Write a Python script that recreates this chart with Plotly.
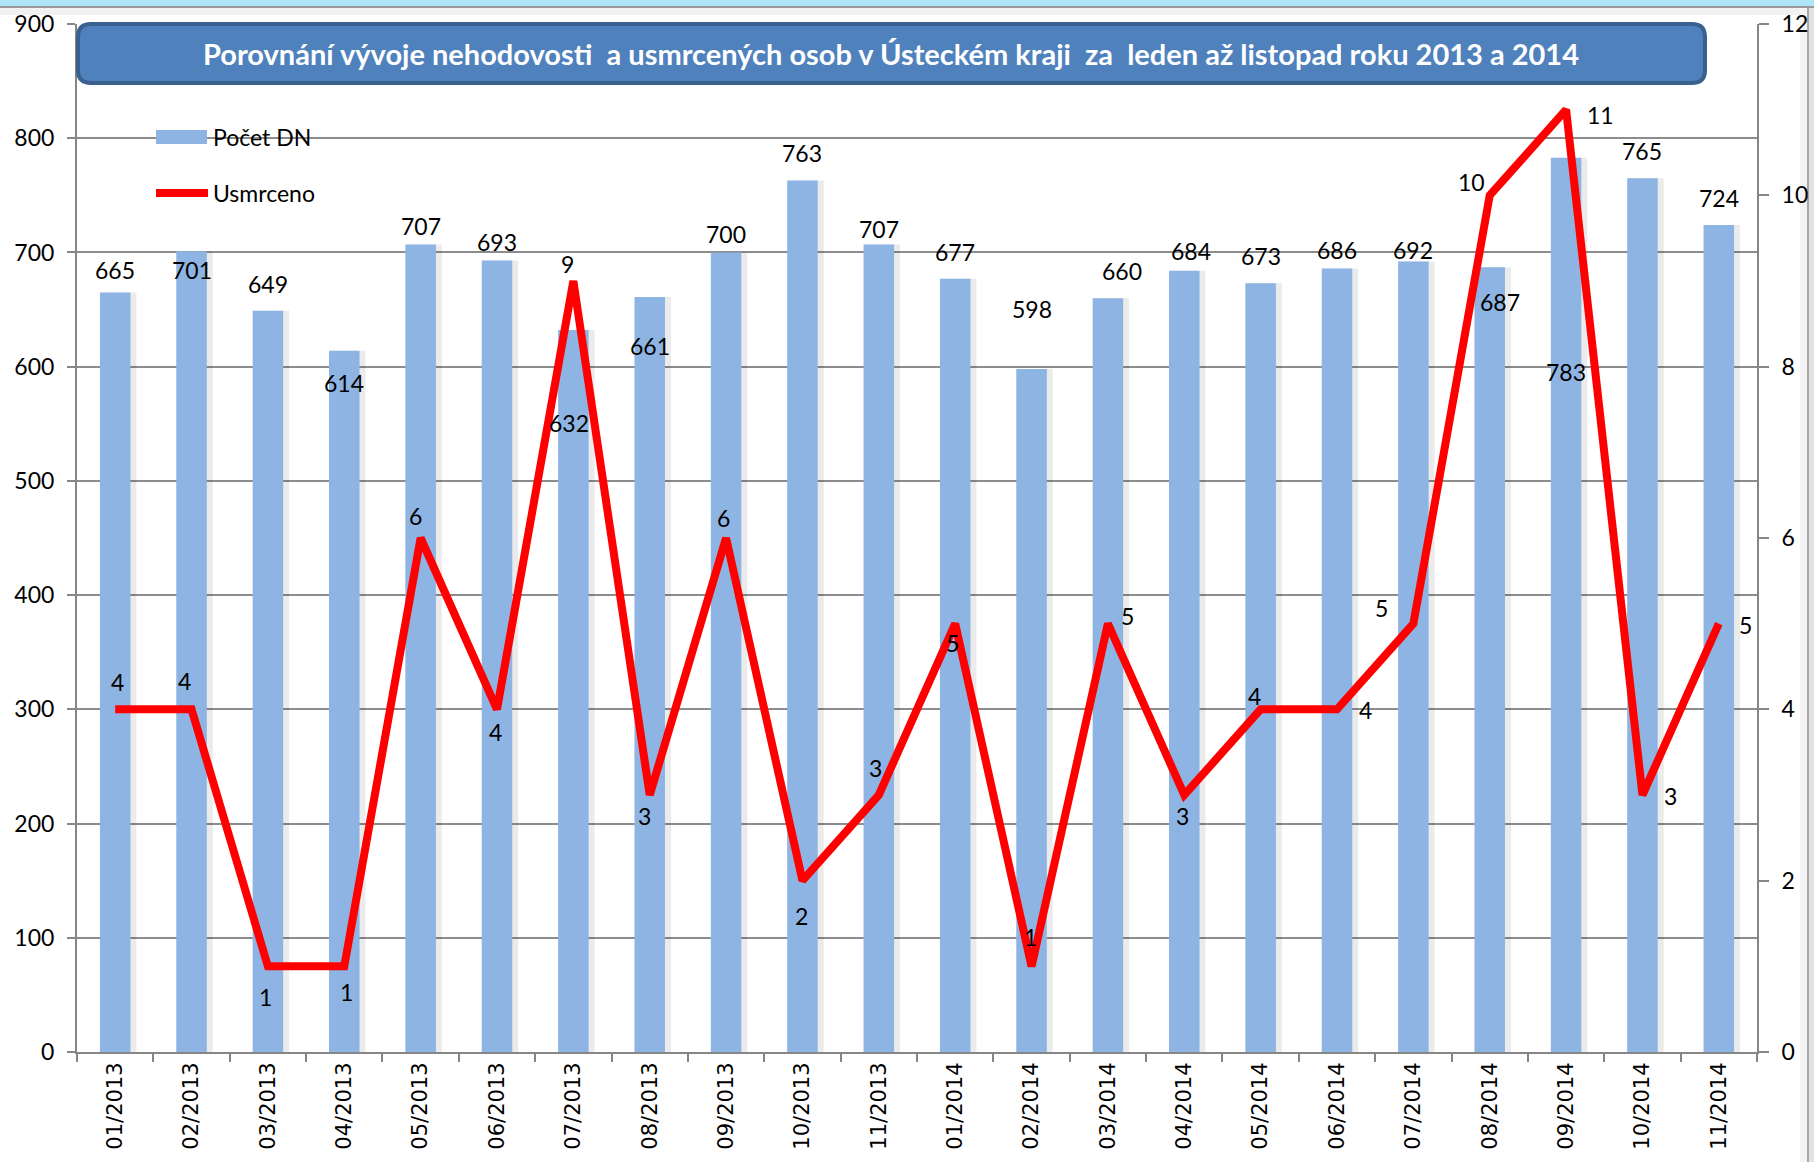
import plotly.graph_objects as go

# ---------------- data ----------------
months = ["01/2013", "02/2013", "03/2013", "04/2013", "05/2013", "06/2013",
          "07/2013", "08/2013", "09/2013", "10/2013", "11/2013",
          "01/2014", "02/2014", "03/2014", "04/2014", "05/2014", "06/2014",
          "07/2014", "08/2014", "09/2014", "10/2014", "11/2014"]
pocet_dn = [665, 701, 649, 614, 707, 693, 632, 661, 700, 763, 707,
            677, 598, 660, 684, 673, 686, 692, 687, 783, 765, 724]
usmrceno = [4, 4, 1, 1, 6, 4, 9, 3, 6, 2, 3,
            5, 1, 5, 3, 4, 4, 5, 10, 11, 3, 5]
left_ticks = list(range(0, 901, 100))
right_ticks = list(range(0, 13, 2))

title_text = ("Porovnání vývoje nehodovosti \u00a0a usmrcených osob v Ústeckém kraji "
              "\u00a0za \u00a0leden až listopad roku 2013 a 2014")
series_names = ["Počet DN", "Usmrceno"]

# label placement (pixel offsets from bar top / line point; +dy = down)
bar_lbl_dx = [0, 0, 0, 0, 0, 0, -4, 0, 0, 0, 0, 0, 0, 14, 7, 0, 0, 0, 10, 0, 0, 0]
bar_lbl_dy = [-22, 19, -27, 32, -18, -18, 93, 49, -18, -27, -15, -27, -60, -27,
              -20, -27, -18, -12, 35, 214, -27, -27]
line_lbl_dx = [2, -7, -2, 2, -5, -2, -6, -5, -3, -1, -3, -3, -1, 20, -2, -6, 28,
               -32, -18, 34, 28, 27]
line_lbl_dy = [-27, -28, 31, 26, -22, 23, -17, 21, -20, 35, -27, 19, -29, -8, 21,
               -13, 1, -16, -13, 5, 1, 1]

# ---------------- geometry ----------------
W, H = 1814, 1162
ML, MR, MT, MB = 77, 57, 24, 110
PW, PH = W - ML - MR, H - MT - MB
CAT_W = PW / len(months)


def fx(px):
    return (px - ML) / PW


def fy(py):
    return (H - MB - py) / PH


FONT = "Lato, 'Open Sans', sans-serif"
BAR_COLOR = "#8EB4E3"
AXIS_COLOR = "#868686"
BAR_W = 0.4

fig = go.Figure()
# soft shadow behind bars
fig.add_trace(go.Bar(x=months, y=pocet_dn, name="shadow", showlegend=False,
                     hoverinfo="skip", width=BAR_W + 5 / CAT_W,
                     offset=-BAR_W / 2 + 1 / CAT_W,
                     marker=dict(color="rgba(0,0,0,0.08)", line=dict(width=0)),
                     yaxis="y"))
fig.add_trace(go.Bar(x=months, y=pocet_dn, name=series_names[0], width=BAR_W,
                     offset=-BAR_W / 2,
                     marker=dict(color=BAR_COLOR, line=dict(width=0)),
                     yaxis="y"))
fig.add_trace(go.Scatter(x=months, y=usmrceno, name=series_names[1],
                         mode="lines", line=dict(color="#FF0000", width=8),
                         yaxis="y2"))

LBL_FONT = dict(family=FONT, size=23, color="black")
annotations = []
for i, (m, v) in enumerate(zip(months, pocet_dn)):
    annotations.append(dict(x=m, y=v, xref="x", yref="y", text=str(v),
                            showarrow=False, xshift=bar_lbl_dx[i],
                            yshift=-bar_lbl_dy[i], font=LBL_FONT))
for i, (m, v) in enumerate(zip(months, usmrceno)):
    annotations.append(dict(x=m, y=v, xref="x", yref="y2", text=str(v),
                            showarrow=False, xshift=line_lbl_dx[i],
                            yshift=-line_lbl_dy[i], font=LBL_FONT))

# title
annotations.append(dict(x=fx(891), y=fy(53), xref="paper", yref="paper",
                        text="<b>" + title_text + "</b>", showarrow=False,
                        xanchor="center", yanchor="middle",
                        font=dict(family=FONT, size=29, color="white")))
# legend texts
annotations.append(dict(x=fx(211), y=fy(137), xref="paper", yref="paper",
                        text=series_names[0], showarrow=False, xanchor="left",
                        yanchor="middle", font=dict(family=FONT, size=23, color="black")))
annotations.append(dict(x=fx(211), y=fy(193), xref="paper", yref="paper",
                        text=series_names[1], showarrow=False, xanchor="left",
                        yanchor="middle", font=dict(family=FONT, size=23, color="black")))


def rounded_path(x0, y0, x1, y1, r):
    X0, X1 = fx(x0), fx(x1)
    Y0, Y1 = fy(y0), fy(y1)
    rx, ry = r / PW, r / PH
    return (f"M {X0+rx},{Y0} L {X1-rx},{Y0} Q {X1},{Y0} {X1},{Y0-ry} "
            f"L {X1},{Y1+ry} Q {X1},{Y1} {X1-rx},{Y1} "
            f"L {X0+rx},{Y1} Q {X0},{Y1} {X0},{Y1+ry} "
            f"L {X0},{Y0-ry} Q {X0},{Y0} {X0+rx},{Y0} Z")


shapes = [
    # top decoration strip
    dict(type="rect", xref="paper", yref="paper", x0=fx(0), x1=fx(W), y0=fy(0), y1=fy(6),
         fillcolor="#AEE6F7", line=dict(width=0), layer="above"),
    dict(type="rect", xref="paper", yref="paper", x0=fx(0), x1=fx(W), y0=fy(8), y1=fy(15),
         fillcolor="#F1F1F1", line=dict(width=0), layer="below"),
    dict(type="line", xref="paper", yref="paper", x0=fx(0), x1=fx(W), y0=fy(7), y1=fy(7),
         line=dict(color="#9A9A9A", width=2), layer="above"),
    # right decoration strip
    dict(type="rect", xref="paper", yref="paper", x0=fx(1800), x1=fx(1807), y0=fy(8), y1=fy(H),
         fillcolor="#F3F3F3", line=dict(width=0), layer="below"),
    dict(type="rect", xref="paper", yref="paper", x0=fx(1808), x1=fx(W), y0=fy(8), y1=fy(H),
         fillcolor="#E2E2E2", line=dict(width=0), layer="below"),
    dict(type="line", xref="paper", yref="paper", x0=fx(1808), x1=fx(1808), y0=fy(8), y1=fy(H),
         line=dict(color="#A8A8A8", width=2), layer="below"),
    # title box
    dict(type="path", xref="paper", yref="paper", path=rounded_path(78, 24, 1705, 83, 13),
         fillcolor="#4F81BD", line=dict(color="#3A6090", width=4), layer="above"),
    # legend symbols
    dict(type="rect", xref="paper", yref="paper", x0=fx(156), x1=fx(207), y0=fy(130), y1=fy(144),
         fillcolor=BAR_COLOR, line=dict(width=0), layer="above"),
    dict(type="line", xref="paper", yref="paper", x0=fx(156), x1=fx(208), y0=fy(193), y1=fy(193),
         line=dict(color="#FF0000", width=8), layer="above"),
]

fig.update_layout(
    width=W, height=H,
    margin=dict(l=ML, r=MR, t=MT, b=MB, pad=0, autoexpand=False),
    paper_bgcolor="white", plot_bgcolor="white",
    showlegend=False,
    barmode="overlay",
    font=dict(family=FONT, size=23, color="black"),
    xaxis=dict(type="category", categoryorder="array", categoryarray=months,
               tickangle=-90, ticks="outside", tickson="boundaries", ticklen=8,
               tickwidth=2, tickcolor=AXIS_COLOR, showline=True, linecolor=AXIS_COLOR,
               linewidth=2, showgrid=False, automargin=False,
               tickfont=dict(family="'DejaVu Sans', sans-serif", size=21, color="black")),
    yaxis=dict(range=[0, 900], tickvals=left_ticks, ticks="outside", ticklen=8,
               tickwidth=2, tickcolor=AXIS_COLOR, showline=True, linecolor=AXIS_COLOR,
               linewidth=2, showgrid=True, gridcolor="#8C8C8C", gridwidth=1.5,
               zeroline=False, ticklabelstandoff=8, automargin=False,
               tickfont=dict(family=FONT, size=23, color="black")),
    yaxis2=dict(range=[0, 12], tickvals=right_ticks, overlaying="y", side="right",
                ticks="outside", ticklen=10, tickwidth=2, tickcolor=AXIS_COLOR,
                showline=True, linecolor=AXIS_COLOR, linewidth=2, showgrid=False,
                zeroline=False, ticklabelstandoff=8, automargin=False,
                tickfont=dict(family=FONT, size=23, color="black")),
    annotations=annotations,
    shapes=shapes,
)

fig.write_html("out.html", config={"displayModeBar": False},
               post_script="document.body.style.margin='0';document.body.style.overflow='hidden';")
